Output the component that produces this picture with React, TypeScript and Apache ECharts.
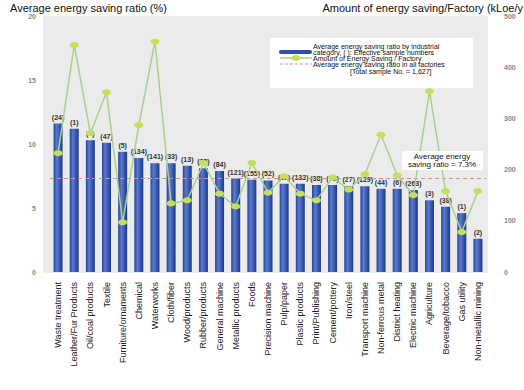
import React, { useEffect, useRef } from "react";
import * as echarts from "echarts";

const categories = [
  "Waste treatment", "Leather/Fur Products", "Oil/coal products", "Textile",
  "Furniture/ornaments", "Chemical", "Waterworks", "Cloth/fiber",
  "Wood/products", "Rubber/products", "General machine", "Metallic products",
  "Foods", "Precision machine", "Pulp/paper", "Plastic products",
  "Print/Publishing", "Cement/pottery", "Iron/steel", "Transport machine",
  "Non-ferrous metal", "District heating", "Electric machine", "Agriculture",
  "Beverage/tobacco", "Gas utility", "Non-metallic mining",
];
const savingRatio = [
  11.6, 11.2, 10.3, 10.1, 9.4, 8.9, 8.5, 8.5, 8.3, 8.1, 7.9, 7.3, 7.2, 7.15,
  6.9, 6.9, 6.8, 6.8, 6.7, 6.7, 6.5, 6.5, 6.4, 5.6, 5.1, 4.6, 2.6,
];
const sampleNumbers = [
  24, 1, 8, 47, 5, 134, 141, 33, 13, 25, 84, 121, 155, 52, 31, 132, 38, 70,
  27, 129, 44, 6, 263, 3, 38, 1, 2,
];
const savingPerFactory = [
  232, 443, 271, 351, 97, 287, 450, 134, 140, 213, 153, 128, 213, 155, 187,
  153, 140, 185, 161, 191, 268, 189, 150, 353, 158, 78, 158,
];
const averageRatio = 7.3;
const leftTicks = { min: 0, max: 20, interval: 5 };
const rightTicks = { min: 0, max: 500, interval: 100 };

export default function App() {
  const ref = useRef<HTMLDivElement>(null);
  useEffect(() => {
    if (!ref.current) return;
    const chart = echarts.init(ref.current, undefined, { renderer: "svg" });
    const font = "Arial, 'Liberation Sans', sans-serif";
    const barColor = new echarts.graphic.LinearGradient(0, 0, 1, 0, [
      { offset: 0, color: "#24429a" },
      { offset: 0.35, color: "#5a7bd0" },
      { offset: 1, color: "#1d3886" },
    ]);
    chart.setOption({
      animation: false,
      backgroundColor: "#ffffff",
      textStyle: { fontFamily: font },
      grid: { left: 50, right: 38, top: 16, bottom: 118 },
      graphic: [
        {
          type: "rect", z: -10, silent: true,
          shape: { x: 43, y: 16, width: 445, height: 257 },
          style: { fill: "#ebebeb" },
        },
        {
          type: "text", x: 10, y: 2,
          style: { text: "Average energy saving ratio (%)", fontSize: 11, fill: "#111", fontFamily: font, verticalAlign: "top" },
        },
        {
          type: "text", x: 523, y: 2,
          style: { text: "Amount of energy saving/Factory (kLoe/y", fontSize: 11, fill: "#111", fontFamily: font, verticalAlign: "top", align: "right" },
        },
        {
          type: "rect", z: 10,
          shape: { x: 270, y: 38, width: 203, height: 50 },
          style: { fill: "#ffffff" },
        },
        {
          type: "rect", z: 11,
          shape: { x: 279, y: 50, width: 33, height: 4, r: 2 },
          style: { fill: "#2f4fa6" },
        },
        {
          type: "line", z: 11,
          shape: { x1: 280, y1: 58, x2: 312, y2: 58 },
          style: { stroke: "#a9d18e", lineWidth: 1.5 },
        },
        {
          type: "ellipse", z: 12,
          shape: { cx: 296, cy: 58, rx: 4.5, ry: 3 },
          style: { fill: "#c6df5b" },
        },
        {
          type: "line", z: 11,
          shape: { x1: 280, y1: 64, x2: 312, y2: 64 },
          style: { stroke: "#e08a8a", lineWidth: 1, lineDash: [3, 2] },
        },
        {
          type: "text", z: 12, x: 313, y: 43,
          style: {
            text: "Average energy saving ratio by industrial\ncategory, ( ): Effective sample numbers\nAmount of Energy Saving / Factory\nAverage energy saving ratio in all factories",
            fontSize: 7, lineHeight: 6.2, fill: "#111", fontFamily: font, verticalAlign: "top",
          },
        },
        {
          type: "text", z: 12, x: 350, y: 67.5,
          style: { text: "[Total sample No. = 1,627]", fontSize: 7, fill: "#111", fontFamily: font, verticalAlign: "top" },
        },
        {
          type: "rect", z: 10,
          shape: { x: 402, y: 151, width: 81, height: 19 },
          style: { fill: "#ffffff" },
        },
        {
          type: "text", z: 12, x: 442, y: 152,
          style: {
            text: "Average energy\nsaving ratio = 7.3%",
            fontSize: 8, lineHeight: 8, fill: "#111", align: "center", fontFamily: font, verticalAlign: "top",
          },
        },
      ],
      xAxis: {
        type: "category",
        data: categories,
        axisLine: { show: false },
        axisTick: { show: false },
        axisLabel: { rotate: 90, fontSize: 9, color: "#222", margin: 10, interval: 0, fontFamily: font },
      },
      yAxis: [
        {
          type: "value", ...leftTicks,
          splitLine: { show: false },
          axisLine: { show: false },
          axisTick: { show: false },
          axisLabel: { fontSize: 7, color: "#888", fontWeight: "bold", margin: 14 },
        },
        {
          type: "value", ...rightTicks,
          splitLine: { show: false },
          axisLine: { show: false },
          axisTick: { show: false },
          axisLabel: { fontSize: 7, color: "#888", fontWeight: "bold", margin: 18 },
        },
      ],
      series: [
        {
          type: "bar",
          yAxisIndex: 0,
          data: savingRatio,
          barWidth: 9,
          itemStyle: { color: barColor },
          label: {
            show: true, position: "top", distance: 3,
            fontSize: 7, color: "#333", fontWeight: "bold",
            formatter: (p: any) => `(${sampleNumbers[p.dataIndex]})`,
          },
          markLine: {
            silent: true, symbol: "none", label: { show: false },
            lineStyle: { color: "#e08a8a", type: [4, 3], width: 1 },
            data: [{ yAxis: averageRatio }],
          },
        },
        {
          type: "line",
          yAxisIndex: 1,
          data: savingPerFactory,
          z: 5,
          lineStyle: { color: "#a9d18e", width: 1.5 },
          symbol: "circle",
          symbolSize: [9, 6],
          itemStyle: { color: "#c6df5b" },
        },
      ],
    });
    return () => chart.dispose();
  }, []);
  return <div ref={ref} style={{ width: 524, height: 390, position: "absolute", left: 0, top: 0 }} />;
}
